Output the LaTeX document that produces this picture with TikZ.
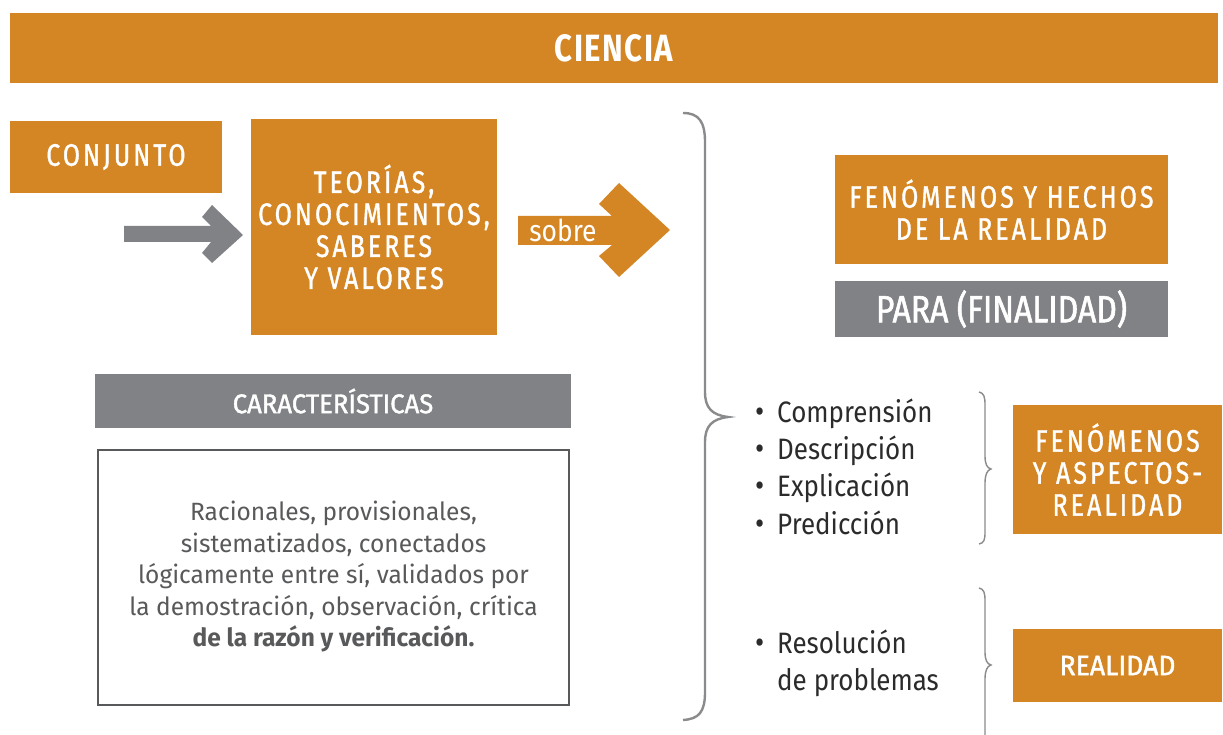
\documentclass[tikz,border=0pt]{standalone}
\usepackage{fontspec}
\setmainfont{Fira Sans}
\newfontfamily\titlefont[FakeStretch=0.82,LetterSpace=4]{Fira Sans}
\newfontfamily\condsp[FakeStretch=0.8,LetterSpace=10,FakeBold=1.2]{Fira Sans}
\newfontfamily\condmed[FakeStretch=0.95,FakeBold=1.5]{Fira Sans}
\newfontfamily\paramed[FakeStretch=0.84,FakeBold=1.5]{Fira Sans}
\newfontfamily\body[FakeStretch=0.88]{Fira Sans}
\newfontfamily\descfont[FakeStretch=0.98]{Fira Sans}
\definecolor{orng}{HTML}{D58624}
\definecolor{gbox}{HTML}{818285}
\definecolor{gline}{HTML}{8A8B8D}
\definecolor{gtext}{HTML}{58595B}
\definecolor{dtext}{HTML}{2B2B2B}
\tikzset{
  obox/.style={fill=orng, draw=none, text=white, align=center, inner sep=0pt},
  gboxs/.style={fill=gbox, draw=none, text=white, align=center, inner sep=0pt},
  capstxt/.style={font=\condsp\fontsize{31}{32}\selectfont},
  bigbrace/.style={draw=gline, line width=2.4pt},
  smallbrace/.style={draw=gline, line width=1.4pt},
  bullet/.style={anchor=west, text=dtext, font=\body\fontsize{29.5}{37}\selectfont, align=left, inner sep=0pt}
}
\newcommand{\bul}{\makebox[22pt][l]{\fontsize{32}{32}\selectfont\textbullet}}
\begin{document}
\begin{tikzpicture}[x=1pt,y=-1pt]
\useasboundingbox (0,0) rectangle (1223,735);
\fill[white] (0,0) rectangle (1223,735);
% title
\node[obox, minimum width=1208pt, minimum height=70pt, font=\titlefont\bfseries\fontsize{38}{40}\selectfont] (ciencia) at (614,48) {CIENCIA};
% left top
\node[obox, minimum width=212pt, minimum height=72pt, capstxt] (conjunto) at (116,157) {CONJUNTO};
\node[obox, minimum width=246pt, minimum height=216pt, capstxt] (teorias) at (374,227) {TEORÍAS,\\CONOCIMIENTOS,\\SABERES\\Y VALORES};
% gray arrow
\fill[gbox] (124,226) -- (211,226) -- (202,217) -- (212,205) -- (243,235) -- (212,263) -- (202,253) -- (211,242) -- (124,242) -- cycle;
% sobre arrow
\fill[orng] (518,216) -- (612,216) -- (599,204) -- (619,183) -- (670,230) -- (619,277) -- (599,256) -- (612,245) -- (518,245) -- cycle;
\node[text=white, font=\body\fontsize{30}{32}\selectfont, inner sep=0pt] (sobre) at (563,230) {sobre};
% big brace
\draw[bigbrace] (683,113) .. controls (699,113) and (705,122) .. (705,142) -- (705,392) .. controls (705,408) and (712,415) .. (728,417) .. controls (712,419) and (705,426) .. (705,442) -- (705,692) .. controls (705,712) and (699,719) .. (683,720);
% right boxes
\node[obox, minimum width=333pt, minimum height=109pt, capstxt] (fenom) at (1001.5,209.5) {FENÓMENOS Y HECHOS\\DE LA REALIDAD};
\node[gboxs, minimum width=333pt, minimum height=55pt, font=\paramed\fontsize{38}{40}\selectfont] (para) at (1001.5,309) {PARA (FINALIDAD)};
% bullets
\node[bullet] (b1) at (755,414) {\bul Comprensión};
\node[bullet] (b2) at (755,451) {\bul Descripción};
\node[bullet] (b3) at (755,488) {\bul Explicación};
\node[bullet] (b4) at (755,523) {\bul Predicción};
\node[bullet] (b5) at (755,663) {\bul Resolución\\\makebox[22pt]{}de problemas};
% small braces
\draw[smallbrace] (979,392) .. controls (984,393) and (985,397) .. (985,405) -- (985,456) .. controls (985,464) and (987,468) .. (991,469) .. controls (987,470) and (985,475) .. (985,483) -- (985,532) .. controls (985,540) and (984,543) .. (979,544);
\draw[smallbrace] (979,588) .. controls (984,589) and (985,593) .. (985,601) -- (985,652) .. controls (985,660) and (987,664) .. (991,665) .. controls (987,666) and (985,671) .. (985,679) -- (985,735);
\node[obox, minimum width=209pt, minimum height=129pt, capstxt] (aspectos) at (1117.5,469.5) {FENÓMENOS\\Y ASPECTOS-\\REALIDAD};
\node[obox, minimum width=209pt, minimum height=73pt, font=\condmed\fontsize{28}{30}\selectfont] (realidad) at (1117.5,665.5) {REALIDAD};
% caracteristicas
\node[gboxs, minimum width=476pt, minimum height=54pt, font=\condmed\fontsize{27}{30}\selectfont] (caract) at (333,401) {CARACTERÍSTICAS};
\node[draw=gtext, line width=2pt, minimum width=471pt, minimum height=255pt, text=gtext, align=center, inner sep=0pt, font=\descfont\fontsize{25}{31.5}\selectfont] (desc) at (333.5,577) {Racionales, provisionales,\\sistematizados, conectados\\lógicamente entre sí, validados por\\la demostración, observación, crítica\\\textbf{de la razón y verificación.}};
\end{tikzpicture}
\end{document}
